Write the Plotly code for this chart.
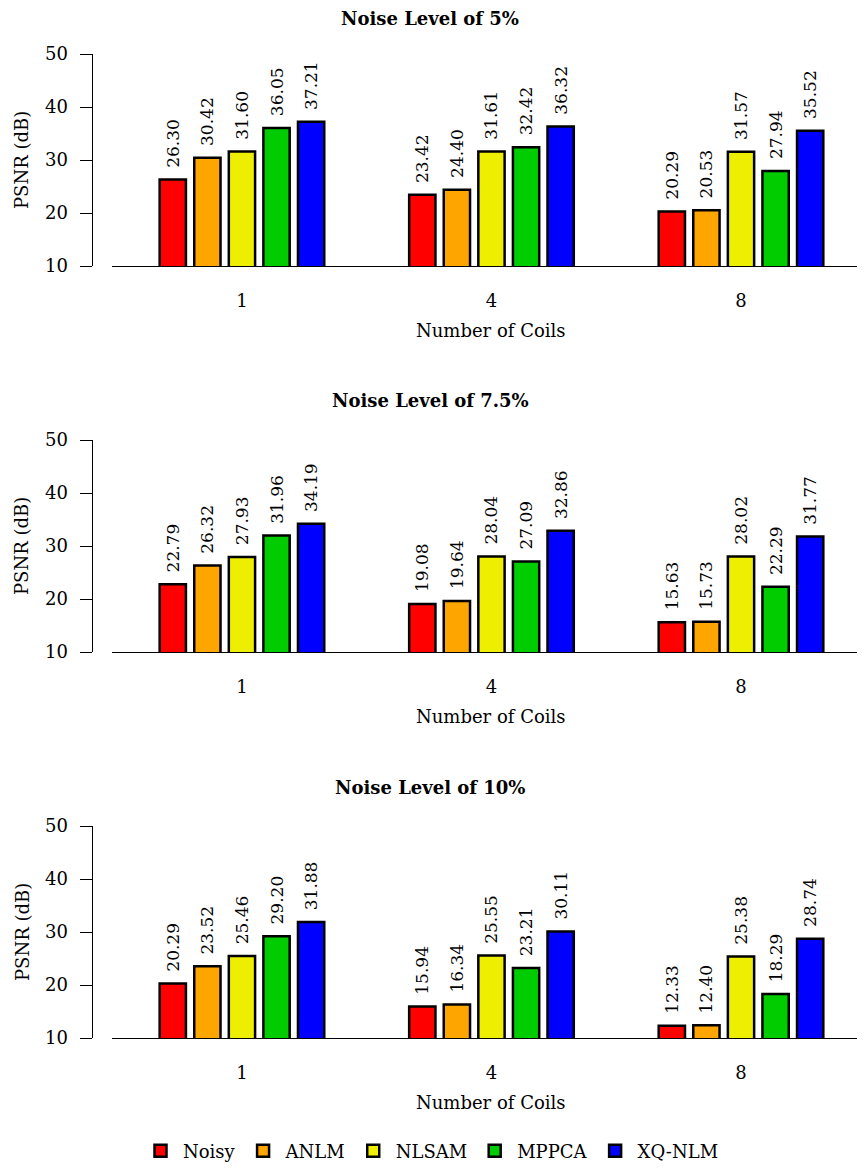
import plotly.graph_objects as go

coils = ["1", "4", "8"]
methods = ["Noisy", "ANLM", "NLSAM", "MPPCA", "XQ-NLM"]
noise_titles = ["Noise Level of 5%", "Noise Level of 7.5%", "Noise Level of 10%"]

# rows: noise level 5%, 7.5%, 10%; columns: 1, 4, 8 coils
noisy = [[26.30, 23.42, 20.29], [22.79, 19.08, 15.63], [20.29, 15.94, 12.33]]
anlm = [[30.42, 24.40, 20.53], [26.32, 19.64, 15.73], [23.52, 16.34, 12.40]]
nlsam = [[31.60, 31.61, 31.57], [27.93, 28.04, 28.02], [25.46, 25.55, 25.38]]
mppca = [[36.05, 32.42, 27.94], [31.96, 27.09, 22.29], [29.20, 23.21, 18.29]]
xqnlm = [[37.21, 36.32, 35.52], [34.19, 32.86, 31.77], [31.88, 30.11, 28.74]]

series = [noisy, anlm, nlsam, mppca, xqnlm]
colors = ["#ff0000", "#ffa500", "#eeee00", "#00cc00", "#0000ff"]

# the page places the figure 8px in from the top-left corner (body margin)
OX, OY = 8, 8
W, H = 865, 1170
FONT = "DejaVu Serif"


def px(x):
    return (x - OX) / W


def py(y):
    return 1 - (y - OY) / H


fig = go.Figure()
layout = {}
annotations = []

for k in range(3):
    xa = "x" if k == 0 else f"x{k+1}"
    ya = "y" if k == 0 else f"y{k+1}"
    for m, name in enumerate(methods):
        fig.add_trace(go.Bar(
            x=coils, y=series[m][k], name=name,
            xaxis=xa, yaxis=ya,
            marker=dict(color=colors[m], line=dict(color="black", width=2.5)),
            texttemplate="\u00a0\u2009%{y:.2f}", textposition="outside",
            textangle=-90, constraintext="none", cliponaxis=False,
            textfont=dict(family=FONT, size=17, color="black"),
            showlegend=(k == 0), legendgroup=name,
        ))
    top = 54 + 386 * k
    bot = 266 + 386 * k
    layout["xaxis" if k == 0 else f"xaxis{k+1}"] = dict(
        domain=[px(111.7), 1.0], anchor=ya, type="category", automargin=False,
        range=[-0.522, 2.529], showline=True, linecolor="black", linewidth=1.2,
        ticks="", ticklabelstandoff=18, showgrid=False, zeroline=False,
        tickfont=dict(family=FONT, size=18, color="black"),
    )
    layout["yaxis" if k == 0 else f"yaxis{k+1}"] = dict(
        domain=[py(bot), py(top)], anchor="free", position=px(91.7), automargin=False,
        range=[10, 50], dtick=10, tick0=10, showline=True, linecolor="black",
        linewidth=1.2, ticks="outside", ticklen=12, tickwidth=1.2, tickcolor="black",
        ticklabelstandoff=8, showgrid=False, zeroline=False,
        tickfont=dict(family=FONT, size=18, color="black"),
    )
    title_y = 19 if k == 0 else 15 + 386 * k
    annotations.append(dict(
        text=f"<b>{noise_titles[k]}</b>", x=px(430), y=py(title_y),
        xref="paper", yref="paper", showarrow=False, xanchor="center", yanchor="middle",
        font=dict(family=FONT, size=18, color="black")))
    annotations.append(dict(
        text="Number of Coils", x=px(491), y=py(330 + 386 * k),
        xref="paper", yref="paper", showarrow=False, xanchor="center", yanchor="middle",
        font=dict(family=FONT, size=18, color="black")))
    annotations.append(dict(
        text="PSNR (dB)", x=px(22), y=py(160 + 386 * k), textangle=-90,
        xref="paper", yref="paper", showarrow=False, xanchor="center", yanchor="middle",
        font=dict(family=FONT, size=18, color="black")))

fig.update_layout(
    width=W, height=H, margin=dict(l=0, r=0, t=0, b=0, autoexpand=False),
    paper_bgcolor="white", plot_bgcolor="white",
    barmode="group", bargap=0.307, bargroupgap=0.24,
    annotations=annotations,
    legend=dict(orientation="h", x=px(431), y=py(1151), xanchor="center",
                yanchor="middle", font=dict(family=FONT, size=18, color="black"),
                itemwidth=35, traceorder="normal"),
    **layout,
)

fig.write_html("out.html")
